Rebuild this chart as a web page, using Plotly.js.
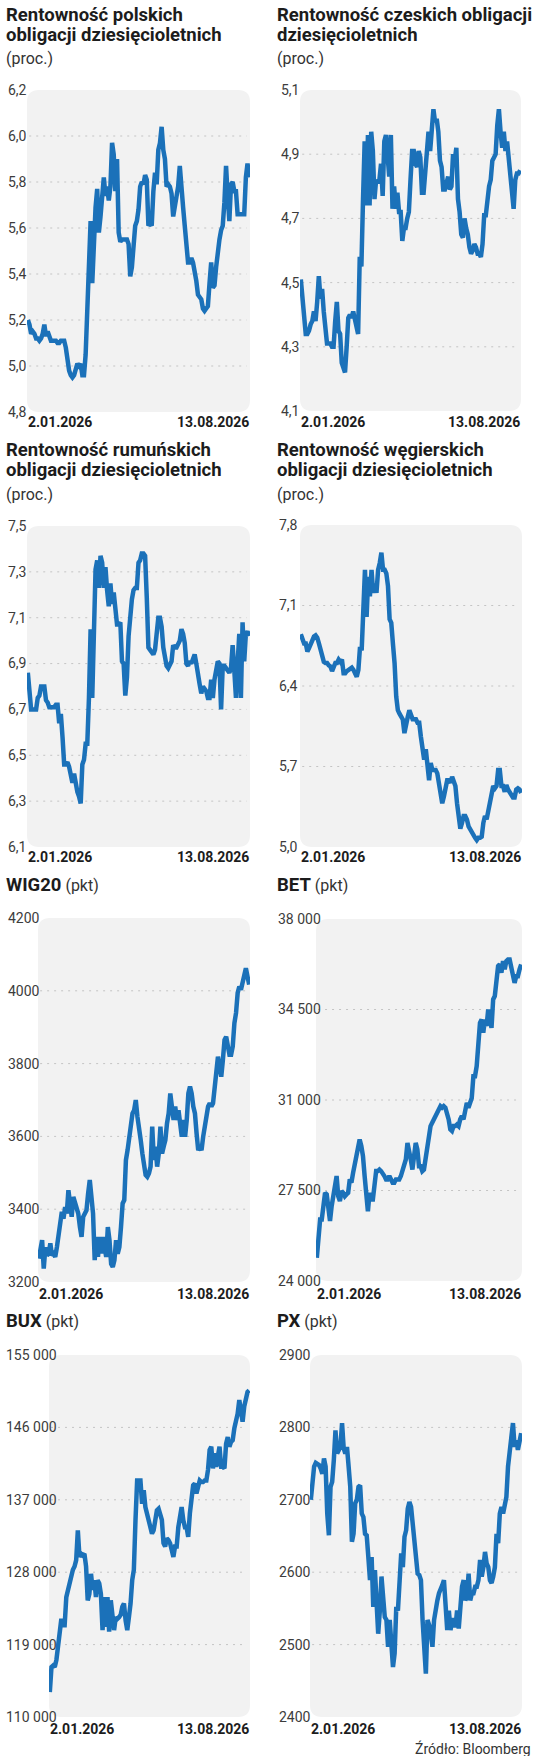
<!DOCTYPE html>
<html>
<head>
<meta charset="utf-8">
<script src="https://cdn.plot.ly/plotly-3.0.1.min.js"></script>
<style>html,body{margin:0;padding:0;background:#fff;}</style>
</head>
<body>
<div id="chart" style="width:536px;height:1756px;"></div>
<script>
// ---------- DATA ----------
const dateLabels = ['2.01.2026', '13.08.2026'];

const polandYield = [5.20,5.18,5.14,5.15,5.14,5.12,5.12,5.11,5.12,5.14,
5.18,5.13,5.15,5.13,5.11,5.11,5.11,5.11,5.10,5.10,
5.11,5.11,5.11,5.08,5.02,4.98,4.96,4.95,4.96,4.98,
5.01,5.00,5.01,4.96,4.96,5.05,5.29,5.55,5.63,5.36,
5.58,5.69,5.77,5.58,5.65,5.72,5.82,5.74,5.78,5.72,
5.78,5.97,5.92,5.76,5.90,5.58,5.54,5.55,5.55,5.55,
5.55,5.53,5.39,5.43,5.53,5.61,5.63,5.68,5.78,5.80,
5.79,5.83,5.81,5.61,5.62,5.61,5.76,5.84,5.79,5.94,
5.97,6.04,5.94,5.90,5.78,5.79,5.78,5.75,5.65,5.70,
5.72,5.78,5.87,5.74,5.69,5.61,5.49,5.45,5.45,5.47,
5.45,5.42,5.37,5.31,5.30,5.29,5.25,5.24,5.25,5.26,
5.36,5.45,5.34,5.35,5.43,5.50,5.55,5.59,5.61,5.71,
5.87,5.74,5.63,5.79,5.80,5.76,5.76,5.66,5.66,5.66,
5.66,5.66,5.82,5.88,5.82];
const polandTicks = [4.8,5.0,5.2,5.4,5.6,5.8,6.0,6.2];

const czechYield = [4.51,4.45,4.38,4.34,4.34,4.35,4.37,4.38,4.41,4.38,
4.44,4.52,4.45,4.48,4.41,4.37,4.31,4.31,4.31,4.30,
4.30,4.38,4.44,4.35,4.34,4.25,4.23,4.22,4.30,4.39,
4.40,4.39,4.41,4.38,4.36,4.34,4.58,4.55,4.76,4.94,
4.74,4.96,4.74,4.97,4.91,4.76,4.82,4.81,4.82,4.87,
4.77,4.94,4.96,4.91,4.83,4.96,4.73,4.80,4.73,4.78,
4.72,4.72,4.63,4.67,4.67,4.70,4.72,4.82,4.91,4.91,
4.87,4.86,4.91,4.89,4.78,4.78,4.86,4.94,4.97,4.91,
4.99,5.04,5.00,5.01,4.97,4.88,4.86,4.79,4.79,4.81,
4.83,4.79,4.80,4.90,4.88,4.92,4.76,4.72,4.65,4.64,
4.70,4.67,4.65,4.61,4.59,4.60,4.62,4.61,4.59,4.59,
4.58,4.62,4.71,4.71,4.76,4.80,4.82,4.88,4.89,4.90,
4.99,5.04,4.97,4.92,4.97,4.91,4.94,4.88,4.82,4.76,
4.73,4.82,4.84,4.84,4.85];
const czechTicks = [4.1,4.3,4.5,4.7,4.9,5.1];

const romaniaYield = [6.86,6.78,6.70,6.70,6.70,6.70,6.75,6.76,6.80,6.80,
6.80,6.74,6.73,6.71,6.71,6.71,6.71,6.72,6.72,6.64,
6.68,6.58,6.46,6.46,6.47,6.45,6.40,6.38,6.42,6.36,
6.34,6.32,6.29,6.46,6.48,6.55,6.55,6.75,7.05,6.75,
7.12,7.31,7.35,7.23,7.37,7.34,7.23,7.32,7.22,7.15,
7.25,7.16,7.21,7.15,7.07,7.07,7.08,6.91,6.90,6.76,
6.84,7.02,7.13,7.18,7.22,7.23,7.23,7.34,7.35,7.38,
7.38,7.37,7.19,6.97,6.96,6.95,6.94,6.96,7.02,7.10,
7.10,7.06,6.97,6.91,6.89,6.88,6.90,6.91,6.98,6.97,
6.97,6.99,7.00,7.05,7.03,6.99,6.90,6.89,6.91,6.90,
6.93,6.94,6.90,6.84,6.81,6.77,6.80,6.79,6.78,6.75,
6.75,6.83,6.75,6.83,6.87,6.91,6.90,6.70,6.89,6.89,
6.88,6.87,6.86,6.88,6.98,6.87,6.75,6.90,7.03,6.75,
7.08,6.91,7.03,7.04,7.02];
const romaniaTicks = [6.1,6.3,6.5,6.7,6.9,7.1,7.3,7.5];

const hungaryYield = [6.85,6.82,6.77,6.77,6.70,6.73,6.77,6.80,6.83,6.84,
6.82,6.77,6.71,6.63,6.61,6.60,6.60,6.58,6.57,6.53,
6.57,6.60,6.60,6.63,6.61,6.63,6.51,6.51,6.53,6.54,
6.56,6.56,6.54,6.50,6.48,6.54,6.74,6.71,7.00,7.41,
7.00,7.35,7.18,7.41,7.21,7.29,7.21,7.41,7.47,7.56,
7.41,7.41,7.38,7.27,6.98,6.95,6.77,6.60,6.31,6.19,
6.16,6.13,6.11,5.99,6.08,6.13,6.19,6.13,6.11,6.11,
6.11,6.08,6.08,5.96,5.85,5.76,5.85,5.73,5.58,5.73,
5.67,5.67,5.67,5.64,5.53,5.47,5.38,5.44,5.50,5.58,
5.58,5.56,5.61,5.58,5.53,5.38,5.24,5.16,5.21,5.27,
5.27,5.24,5.18,5.15,5.12,5.09,5.08,5.06,5.08,5.08,
5.09,5.21,5.27,5.24,5.32,5.41,5.47,5.53,5.51,5.53,
5.67,5.67,5.53,5.53,5.48,5.54,5.50,5.47,5.44,5.43,
5.43,5.50,5.51,5.50,5.47];
const hungaryTicks = [5.0,5.7,6.4,7.1,7.8];

const wig20 = [3264,3287,3315,3237,3296,3273,3278,3306,3273,3278,
3269,3296,3333,3361,3393,3374,3406,3388,3452,3416,
3379,3434,3416,3406,3388,3351,3324,3379,3388,3397,
3443,3480,3434,3388,3260,3324,3269,3324,3278,3324,
3296,3269,3351,3315,3250,3241,3260,3315,3278,3296,
3351,3416,3425,3535,3562,3599,3627,3663,3672,3700,
3654,3627,3590,3553,3517,3494,3489,3498,3517,3627,
3535,3572,3517,3553,3627,3553,3572,3590,3636,3663,
3718,3682,3645,3682,3645,3672,3627,3599,3645,3599,
3645,3718,3737,3718,3682,3663,3608,3562,3572,3562,
3599,3627,3663,3682,3691,3682,3691,3728,3773,3819,
3792,3764,3810,3865,3874,3838,3824,3824,3847,3911,
3939,3994,4012,4003,4021,4049,4062,4039,4017];
const wig20Ticks = [3200,3400,3600,3800,4000,4200];

const bet = [24900,25610,26380,26380,26900,27410,27350,26640,26320,26900,
27410,27670,28060,27280,27090,27480,27410,27280,27350,27410,
27930,27800,28180,28570,28960,29220,29470,29220,28830,28060,
27280,26700,27410,27150,27150,27800,28250,28250,28310,28250,
28180,28060,27930,27930,28060,27930,27800,27800,27930,27930,
27930,28060,28310,28510,28700,29340,29090,28700,28310,29090,
29340,29090,28440,28440,28250,28310,28700,29220,29730,29990,
30120,30250,30380,30500,30630,30760,30700,30760,30700,30500,
30250,29860,29800,29990,29990,30050,29990,30250,30380,30250,
30500,30890,30700,30960,31080,31920,31920,32310,33340,33980,
34110,33600,34110,33860,34500,34240,33790,34890,35020,35660,
36180,36240,35920,36370,36050,36370,36430,36430,36180,35920,
35530,35790,35790,36050,36240];
const betTicks = [24000,27500,31000,34500,38000];

const bux = [113100,116200,116400,116200,117100,118700,120800,122200,121400,121400,
124900,125800,127000,127800,128300,128700,129500,133200,129900,130300,
130100,130300,128700,124500,125300,127800,125800,127000,124900,127000,
126600,125300,120800,124900,121200,124900,120600,124500,122400,120800,
122400,122200,122400,122700,123700,124100,122000,120800,122400,124100,
127000,128300,134500,139400,139400,139400,136500,138200,136100,135300,
134100,133200,132800,133200,134500,135700,135900,134900,134500,131600,
131200,132200,132000,131600,130900,129900,131200,131200,133600,135300,
136100,134500,133600,133600,132400,135300,137800,138800,139000,137800,
138600,139400,139200,139200,139400,139400,140700,143200,143600,140900,
142800,141100,142400,143600,141100,141100,140900,144000,144800,143600,
144200,144400,145900,146900,147700,149400,147700,146700,148600,149600,
150400,150600];
const buxTicks = [110000,119000,128000,137000,146000,155000];

const px = [2700,2727,2746,2751,2750,2748,2743,2736,2757,2746,
2681,2651,2718,2725,2755,2796,2764,2769,2773,2806,
2771,2764,2773,2746,2718,2642,2653,2695,2700,2718,
2720,2681,2676,2653,2651,2621,2589,2621,2552,2603,
2566,2515,2547,2594,2566,2538,2534,2497,2534,2492,
2469,2488,2552,2547,2584,2626,2607,2649,2658,2688,
2697,2690,2667,2644,2617,2598,2596,2589,2534,2478,
2460,2534,2527,2515,2497,2534,2552,2561,2571,2575,
2582,2589,2561,2520,2547,2520,2534,2534,2524,2547,
2522,2561,2580,2589,2561,2566,2598,2561,2571,2571,
2580,2580,2589,2617,2594,2607,2628,2612,2607,2589,
2585,2594,2607,2653,2640,2681,2690,2681,2695,2704,
2746,2769,2778,2806,2773,2782,2769,2778,2792];
const pxTicks = [2400,2500,2600,2700,2800,2900];

const titles = [
  {bold: ['Rentowność polskich', 'obligacji dziesięcioletnich'], unit: '(proc.)'},
  {bold: ['Rentowność czeskich obligacji', 'dziesięcioletnich'], unit: '(proc.)'},
  {bold: ['Rentowność rumuńskich', 'obligacji dziesięcioletnich'], unit: '(proc.)'},
  {bold: ['Rentowność węgierskich', 'obligacji dziesięcioletnich'], unit: '(proc.)'},
  {bold: ['WIG20'], unit: '(pkt)'},
  {bold: ['BET'], unit: '(pkt)'},
  {bold: ['BUX'], unit: '(pkt)'},
  {bold: ['PX'], unit: '(pkt)'}
];
const sourceText = 'Źródło: Bloomberg';

// ---------- LAYOUT (pixel geometry) ----------
const W = 536, H = 1756;
const FONT = 'Roboto, "Noto Sans", sans-serif';
const NARROW = '"Liberation Sans Narrow", Roboto, sans-serif';
const INK = '#1c1c1c';
const LINE = '#1b71b9';
const BG = '#f2f2f2';
const TITLE_SIZE = 18.5;

const panels = [
  {y: polandYield,  ticks: polandTicks,  dec: 1, box: {l:27,  r:250, t:90,   b:412},  tx: 5,   lx: 4,   ty: [15, 35],   uy: 58,  dy: 422},
  {y: czechYield,   ticks: czechTicks,   dec: 1, box: {l:300, r:521, t:90,   b:411},  tx: 276, lx: 277, ty: [15, 35],   uy: 58,  dy: 422},
  {y: romaniaYield, ticks: romaniaTicks, dec: 1, box: {l:27,  r:250, t:526,  b:847},  tx: 5,   lx: 4,   ty: [450, 470], uy: 494, dy: 857},
  {y: hungaryYield, ticks: hungaryTicks, dec: 1, box: {l:300, r:522, t:525,  b:847},  tx: 276, lx: 275, ty: [450, 470], uy: 494, dy: 857},
  {y: wig20,        ticks: wig20Ticks,   dec: 0, box: {l:38,  r:250, t:918,  b:1282}, tx: 5,   lx: 4,   ty: [885],  dy: 1294},
  {y: bet,          ticks: betTicks,     dec: 0, box: {l:316, r:522, t:919,  b:1281}, tx: 276, lx: 274, ty: [885],  dy: 1294},
  {y: bux,          ticks: buxTicks,     dec: 0, box: {l:49,  r:250, t:1355, b:1717}, tx: 5,   lx: 2,   ty: [1321], dy: 1729},
  {y: px,           ticks: pxTicks,      dec: 0, box: {l:310, r:522, t:1355, b:1717}, tx: 276, lx: 275, ty: [1321], dy: 1729}
];

const PX = v => v / W;
const PY = v => 1 - v / H;

function fmt(v, dec) {
  if (dec) return v.toFixed(dec).replace('.', ',');
  const s = String(v);
  return v >= 10000 ? s.replace(/\B(?=(\d{3})+(?!\d))/g, ' ') : s;
}

function roundRect(b, rad) {
  const l = PX(b.l), r = PX(b.r), t = PY(b.t), bo = PY(b.b);
  const rx = rad / W, ry = rad / H;
  return `M${l+rx},${t} L${r-rx},${t} Q${r},${t} ${r},${t-ry} L${r},${bo+ry} Q${r},${bo} ${r-rx},${bo} ` +
         `L${l+rx},${bo} Q${l},${bo} ${l},${bo+ry} L${l},${t-ry} Q${l},${t} ${l+rx},${t} Z`;
}

const traces = [];
const layout = {
  width: W, height: H,
  margin: {l: 0, r: 0, t: 0, b: 0},
  paper_bgcolor: '#ffffff',
  plot_bgcolor: 'rgba(0,0,0,0)',
  showlegend: false,
  shapes: [],
  annotations: [],
  font: {family: FONT, color: INK}
};

panels.forEach((p, i) => {
  const k = i === 0 ? '' : String(i + 1);
  const n = p.y.length;
  traces.push({
    type: 'scatter', mode: 'lines',
    y: p.y,
    xaxis: 'x' + k, yaxis: 'y' + k,
    line: {color: LINE, width: 4.5},
    hoverinfo: 'skip'
  });
  const b = p.box;
  layout['xaxis' + k] = {
    domain: [PX(b.l), PX(b.r)], anchor: 'y' + k,
    range: [-0.5, n - 0.5], visible: false, fixedrange: true
  };
  const lo = p.ticks[0], hi = p.ticks[p.ticks.length - 1];
  layout['yaxis' + k] = {
    domain: [PY(b.b), PY(b.t)], anchor: 'free', position: PX(p.lx),
    range: [lo, hi], fixedrange: true,
    showgrid: false, zeroline: false, showline: false, ticks: '',
    tickmode: 'array', tickvals: p.ticks, ticktext: p.ticks.map(v => fmt(v, p.dec)),
    ticklabelposition: 'inside', ticklabeloverflow: 'allow', ticklabelstandoff: 0,
    tickfont: {family: NARROW, size: 14, color: '#3c3c3c'}
  };
  // rounded grey plotting area
  layout.shapes.push({
    type: 'path', xref: 'paper', yref: 'paper', layer: 'below',
    path: roundRect(b, 12), fillcolor: BG, line: {width: 0}
  });
  // dotted grid lines at interior ticks
  p.ticks.slice(1, -1).forEach(v => {
    layout.shapes.push({
      type: 'line', xref: 'x' + k + ' domain', yref: 'y' + k, layer: 'below',
      x0: 0.01, x1: 0.985, y0: v, y1: v,
      line: {color: '#c4c4c4', width: 1, dash: '2px,5px'}
    });
  });
  // titles
  const t = titles[i];
  if (t.bold.length === 2) {
    t.bold.forEach((line, j) => {
      layout.annotations.push({
        xref: 'paper', yref: 'paper', x: PX(p.tx), y: PY(p.ty[j]),
        xanchor: 'left', yanchor: 'middle', showarrow: false, borderpad: 0,
        text: '<b>' + line + '</b>', font: {family: FONT, size: TITLE_SIZE, color: INK}
      });
    });
    layout.annotations.push({
      xref: 'paper', yref: 'paper', x: PX(p.tx), y: PY(p.uy),
      xanchor: 'left', yanchor: 'middle', showarrow: false, borderpad: 0,
      text: t.unit, font: {family: FONT, size: 16, color: '#333333'}
    });
  } else {
    layout.annotations.push({
      xref: 'paper', yref: 'paper', x: PX(p.tx), y: PY(p.ty[0]),
      xanchor: 'left', yanchor: 'middle', showarrow: false, borderpad: 0,
      text: '<b>' + t.bold[0] + '</b><span style="font-size:16px;fill:#333333"> ' + t.unit + '</span>',
      font: {family: FONT, size: TITLE_SIZE, color: INK}
    });
  }
  // date labels under the plotting area
  layout.annotations.push({
    xref: 'paper', yref: 'paper', x: PX(b.l), y: PY(p.dy),
    xanchor: 'left', yanchor: 'middle', showarrow: false, borderpad: 0,
    text: '<b>' + dateLabels[0] + '</b>', font: {family: FONT, size: 14, color: INK}
  });
  layout.annotations.push({
    xref: 'paper', yref: 'paper', x: PX(b.r), y: PY(p.dy),
    xanchor: 'right', yanchor: 'middle', showarrow: false, borderpad: 0,
    text: '<b>' + dateLabels[1] + '</b>', font: {family: FONT, size: 14, color: INK}
  });
});

layout.annotations.push({
  xref: 'paper', yref: 'paper', x: PX(532), y: PY(1748),
  xanchor: 'right', yanchor: 'middle', showarrow: false, borderpad: 0,
  text: sourceText, font: {family: NARROW, size: 14, color: '#333333'}
});

Plotly.newPlot('chart', traces, layout, {staticPlot: true, displayModeBar: false});
</script>
</body>
</html>
